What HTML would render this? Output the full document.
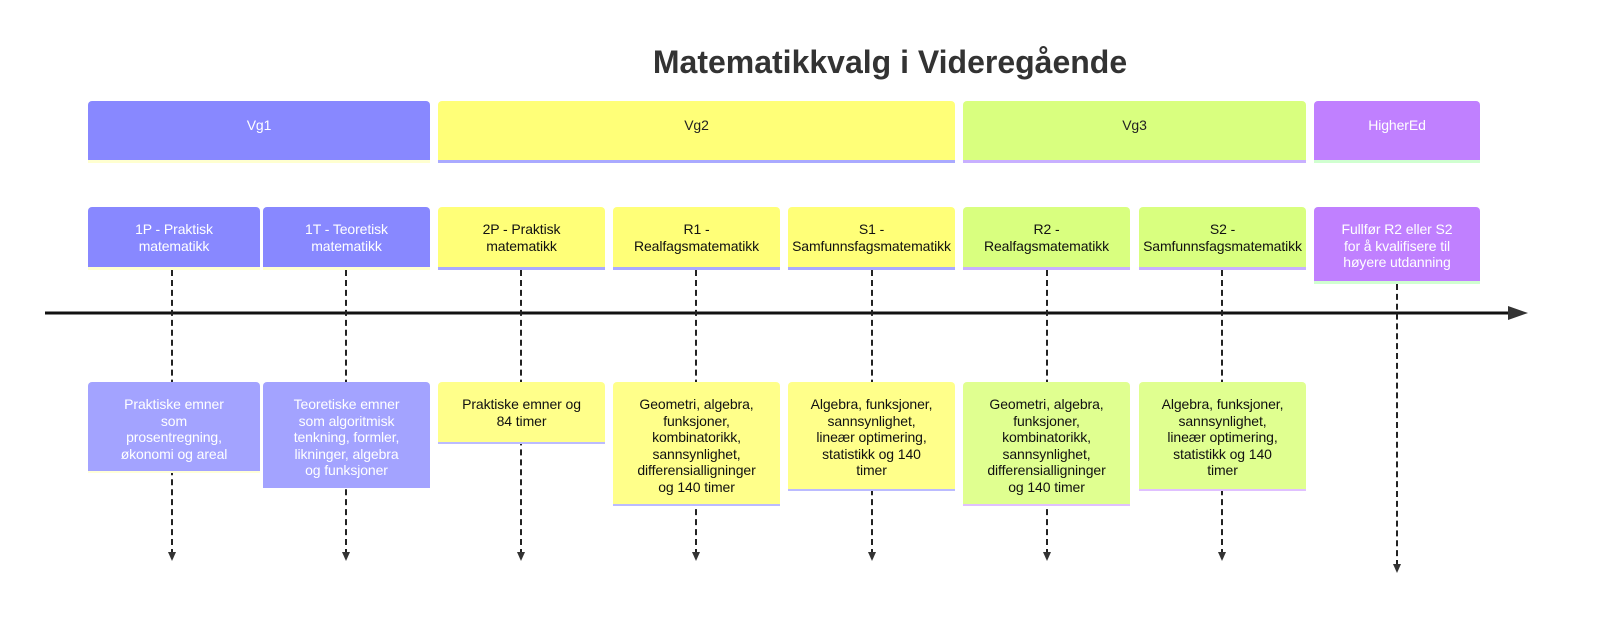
<!DOCTYPE html>
<html><head><meta charset="utf-8"><style>
body{margin:0;width:1600px;height:628px;background:#fff;position:relative;overflow:hidden;font-family:"Liberation Sans","DejaVu Sans",sans-serif}
.b{position:absolute;border-radius:4px 4px 0 0;display:flex;justify-content:center;text-align:center;font-size:14px;line-height:16.5px;box-sizing:border-box;padding:14px 2px 0;white-space:nowrap;letter-spacing:-0.1px}
.h{padding-top:16px}
.t{position:absolute;left:0;top:44px;width:1780px;text-align:center;font-size:32px;font-weight:bold;color:#333}
.l{position:absolute;border-left:2px dashed #222;width:0}
.a{position:absolute;width:0;height:0;border-left:4px solid transparent;border-right:4px solid transparent;border-top:9px solid #333}
</style></head><body>
<div class="t">Matematikkvalg i Videregående</div>
<svg style="position:absolute;left:0;top:0" width="1600" height="628">
<line x1="45" y1="313" x2="1512" y2="313" stroke="#111" stroke-width="3"/>
<polygon points="1508,306 1528,313 1508,320" fill="#333"/>
</svg>
<div class="b h" style="left:88px;top:101px;width:342px;height:62px;background:#8888ff;color:#fff;border-bottom:3px solid #ffffd0">Vg1</div>
<div class="b h" style="left:438px;top:101px;width:517px;height:62px;background:#ffff78;color:#222;border-bottom:3px solid #aaaaff">Vg2</div>
<div class="b h" style="left:963px;top:101px;width:343px;height:62px;background:#d9ff7f;color:#222;border-bottom:3px solid #c8b0ff">Vg3</div>
<div class="b h" style="left:1314px;top:101px;width:166px;height:62px;background:#c080ff;color:#fff;border-bottom:3px solid #d0ffd0">HigherEd</div>
<div class="l" style="left:171px;top:270px;height:285px"></div><div class="a" style="left:168px;top:552px"></div>
<div class="l" style="left:345px;top:270px;height:285px"></div><div class="a" style="left:342px;top:552px"></div>
<div class="l" style="left:520px;top:270px;height:285px"></div><div class="a" style="left:517px;top:552px"></div>
<div class="l" style="left:695px;top:270px;height:285px"></div><div class="a" style="left:692px;top:552px"></div>
<div class="l" style="left:871px;top:270px;height:285px"></div><div class="a" style="left:868px;top:552px"></div>
<div class="l" style="left:1046px;top:270px;height:285px"></div><div class="a" style="left:1043px;top:552px"></div>
<div class="l" style="left:1221px;top:270px;height:285px"></div><div class="a" style="left:1218px;top:552px"></div>
<div class="l" style="left:1396px;top:284px;height:282px"></div><div class="a" style="left:1393px;top:564px"></div>
<div class="b" style="left:88px;top:207px;width:172px;height:63px;background:#8888ff;color:#fff;border-bottom:3px solid #ffffd0">1P - Praktisk<br>matematikk</div>
<div class="b" style="left:263px;top:207px;width:167px;height:63px;background:#8888ff;color:#fff;border-bottom:3px solid #ffffd0">1T - Teoretisk<br>matematikk</div>
<div class="b" style="left:438px;top:207px;width:167px;height:63px;background:#ffff78;color:#111;border-bottom:3px solid #aaaaff">2P - Praktisk<br>matematikk</div>
<div class="b" style="left:613px;top:207px;width:167px;height:63px;background:#ffff78;color:#111;border-bottom:3px solid #aaaaff">R1 -<br>Realfagsmatematikk</div>
<div class="b" style="left:788px;top:207px;width:167px;height:63px;background:#ffff78;color:#111;border-bottom:3px solid #aaaaff">S1 -<br>Samfunnsfagsmatematikk</div>
<div class="b" style="left:963px;top:207px;width:167px;height:63px;background:#d9ff7f;color:#111;border-bottom:3px solid #c8b0ff">R2 -<br>Realfagsmatematikk</div>
<div class="b" style="left:1139px;top:207px;width:167px;height:63px;background:#d9ff7f;color:#111;border-bottom:3px solid #c8b0ff">S2 -<br>Samfunnsfagsmatematikk</div>
<div class="b" style="left:1314px;top:207px;width:166px;height:77px;background:#c080ff;color:#fff;border-bottom:3px solid #d0ffd0">Fullfør R2 eller S2<br>for å kvalifisere til<br>høyere utdanning</div>
<div class="b" style="left:88px;top:382px;width:172px;height:91px;background:#a3a3ff;color:#fff;border-bottom:2px solid #ffffd8">Praktiske emner<br>som<br>prosentregning,<br>økonomi og areal</div>
<div class="b" style="left:263px;top:382px;width:167px;height:106px;background:#a3a3ff;color:#fff">Teoretiske emner<br>som algoritmisk<br>tenkning, formler,<br>likninger, algebra<br>og funksjoner</div>
<div class="b" style="left:438px;top:382px;width:167px;height:62px;background:#ffff8a;color:#111;border-bottom:2px solid #bbbbff">Praktiske emner og<br>84 timer</div>
<div class="b" style="left:613px;top:382px;width:167px;height:124px;background:#ffff8a;color:#111;border-bottom:2px solid #bbbbff">Geometri, algebra,<br>funksjoner,<br>kombinatorikk,<br>sannsynlighet,<br>differensialligninger<br>og 140 timer</div>
<div class="b" style="left:788px;top:382px;width:167px;height:109px;background:#ffff8a;color:#111;border-bottom:2px solid #bbbbff">Algebra, funksjoner,<br>sannsynlighet,<br>lineær optimering,<br>statistikk og 140<br>timer</div>
<div class="b" style="left:963px;top:382px;width:167px;height:124px;background:#e0ff90;color:#111;border-bottom:2px solid #e0c0ff">Geometri, algebra,<br>funksjoner,<br>kombinatorikk,<br>sannsynlighet,<br>differensialligninger<br>og 140 timer</div>
<div class="b" style="left:1139px;top:382px;width:167px;height:109px;background:#e0ff90;color:#111;border-bottom:2px solid #e0c0ff">Algebra, funksjoner,<br>sannsynlighet,<br>lineær optimering,<br>statistikk og 140<br>timer</div>
</body></html>
